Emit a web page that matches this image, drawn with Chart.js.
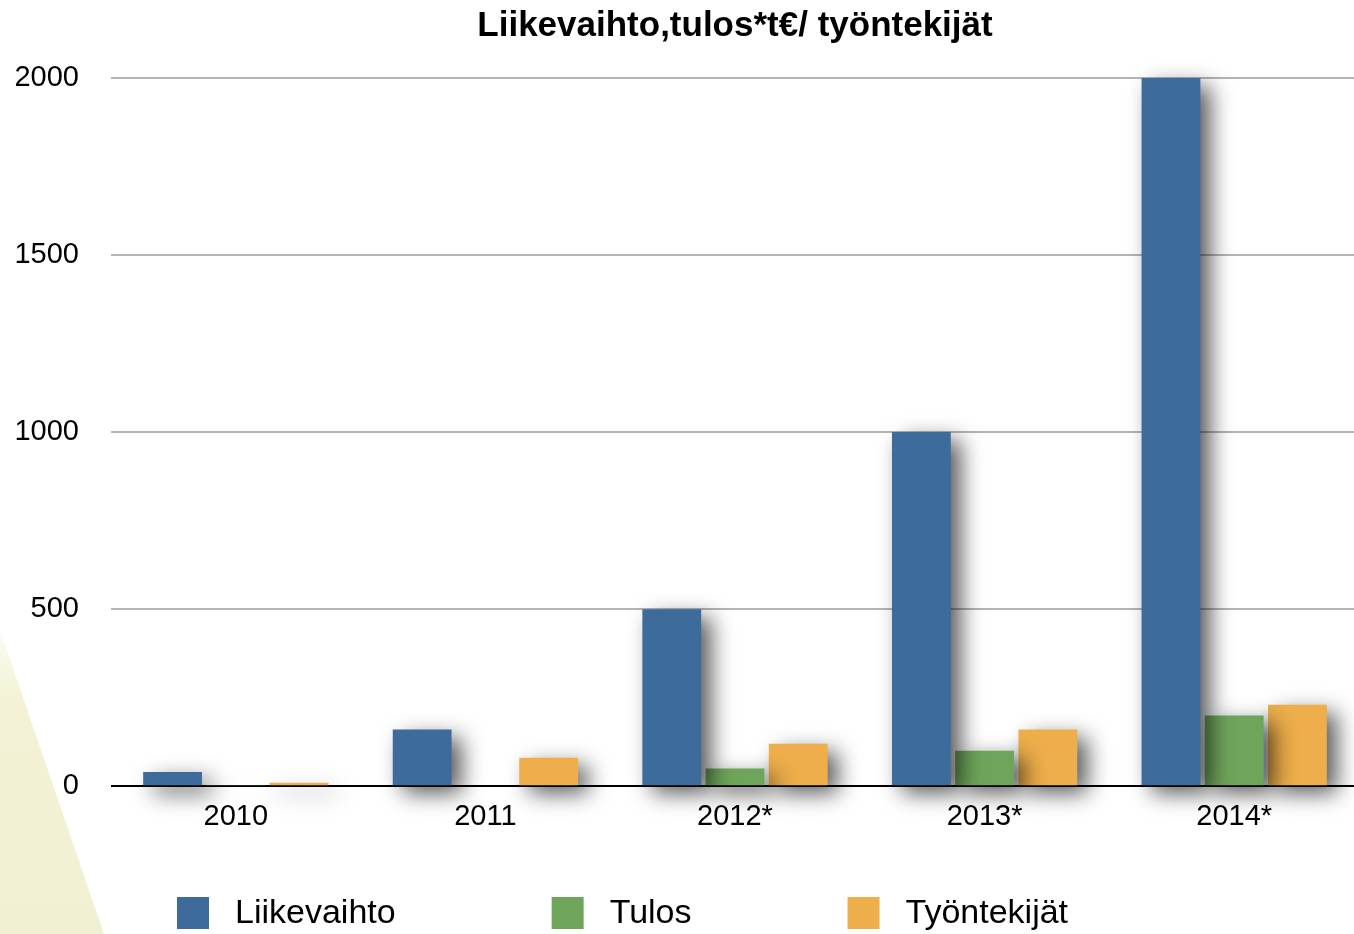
<!DOCTYPE html>
<html>
<head>
<meta charset="utf-8">
<script src="https://cdn.jsdelivr.net/npm/chart.js@4/dist/chart.umd.min.js"></script>
<style>
  html, body { margin: 0; padding: 0; background: #fff; overflow: hidden; }
  #wrap { position: relative; width: 1359px; height: 934px; }
</style>
</head>
<body>
<div id="wrap"><canvas id="c"></canvas></div>
<script>
const chartTitle = 'Liikevaihto,tulos*t€/ työntekijät';
const categories = ['2010', '2011', '2012*', '2013*', '2014*'];
const seriesNames = ['Liikevaihto', 'Tulos', 'Työntekijät'];
const liikevaihto = [40, 160, 500, 1000, 2000];
const tulos = [2, 0, 50, 100, 200];
const tyontekijat = [10, 80, 120, 160, 230];
const seriesColors = ['#3d6b9c', '#6ea55b', '#edae4b'];
const yTicks = [0, 500, 1000, 1500, 2000];

const FONT = '"Liberation Sans", Arial, Helvetica, sans-serif';

const bgPlugin = {
  id: 'bg',
  beforeDraw(chart) {
    const ctx = chart.ctx;
    ctx.save();
    ctx.fillStyle = '#ffffff';
    ctx.fillRect(0, 0, chart.width, chart.height);
    const g = ctx.createLinearGradient(0, 600, 0, 934);
    g.addColorStop(0, 'rgba(243,242,214,0)');
    g.addColorStop(0.3, 'rgba(243,242,214,1)');
    g.addColorStop(1, 'rgba(241,240,210,1)');
    ctx.fillStyle = g;
    ctx.beginPath();
    ctx.moveTo(0, 630);
    ctx.lineTo(104, 934);
    ctx.lineTo(0, 934);
    ctx.closePath();
    ctx.fill();
    ctx.restore();
  }
};

const shadowPlugin = {
  id: 'barShadow',
  beforeDatasetsDraw(chart) {
    const ctx = chart.ctx;
    ctx.save();
    ctx.shadowColor = 'rgba(0,0,0,0.65)';
    ctx.shadowBlur = 22;
    ctx.shadowOffsetX = 10;
    ctx.shadowOffsetY = 8;
  },
  afterDatasetsDraw(chart) {
    chart.ctx.restore();
  }
};

const titleLegendPlugin = {
  id: 'titleLegend',
  afterDraw(chart) {
    const ctx = chart.ctx;
    const ca = chart.chartArea;
    ctx.save();
    ctx.fillStyle = '#000';
    ctx.font = 'bold 35px ' + FONT;
    ctx.textAlign = 'center';
    ctx.textBaseline = 'middle';
    ctx.fillText(chartTitle, (ca.left + ca.right) / 2, 26);

    ctx.font = '34px ' + FONT;
    ctx.textAlign = 'left';
    let x = 177;
    const boxY = 897, box = 32, gap = 26, pad = 156;
    chart.data.datasets.forEach((ds) => {
      ctx.fillStyle = ds.backgroundColor;
      ctx.fillRect(x, boxY, box, box);
      ctx.fillStyle = '#000';
      ctx.fillText(ds.label, x + box + gap, boxY + box / 2 + 1);
      x += box + gap + ctx.measureText(ds.label).width + pad;
    });
    ctx.restore();
  }
};

const seriesValues = [liikevaihto, tulos, tyontekijat];

new Chart(document.getElementById('c'), {
  type: 'bar',
  data: {
    labels: categories,
    datasets: seriesNames.map((name, i) => ({
      label: name,
      data: seriesValues[i],
      backgroundColor: seriesColors[i],
      borderWidth: 0,
      categoryPercentage: 0.76,
      barPercentage: 0.93,
      clip: false
    }))
  },
  options: {
    responsive: true,
    maintainAspectRatio: false,
    animation: false,
    layout: { padding: { left: 14, right: 0, top: 78, bottom: 87 } },
    plugins: {
      legend: { display: false },
      title: { display: false },
      tooltip: { enabled: false }
    },
    scales: {
      x: {
        grid: { display: false, drawTicks: false },
        border: { display: false },
        ticks: { color: '#000', font: { family: FONT, size: 29 }, padding: 13 }
      },
      y: {
        min: 0,
        max: 2000,
        afterBuildTicks(scale) { scale.ticks = yTicks.map(v => ({ value: v })); },
        afterFit(scale) { scale.width = 97; },
        grid: {
          drawTicks: false,
          lineWidth: 2,
          color: (c) => (c.tick && c.tick.value === 0) ? '#000000' : '#b4b4b4'
        },
        border: { display: false },
        ticks: {
          color: '#000',
          font: { family: FONT, size: 29 },
          padding: 32,
          callback: (v) => String(v)
        }
      }
    }
  },
  plugins: [bgPlugin, shadowPlugin, titleLegendPlugin]
});
</script>
</body>
</html>
